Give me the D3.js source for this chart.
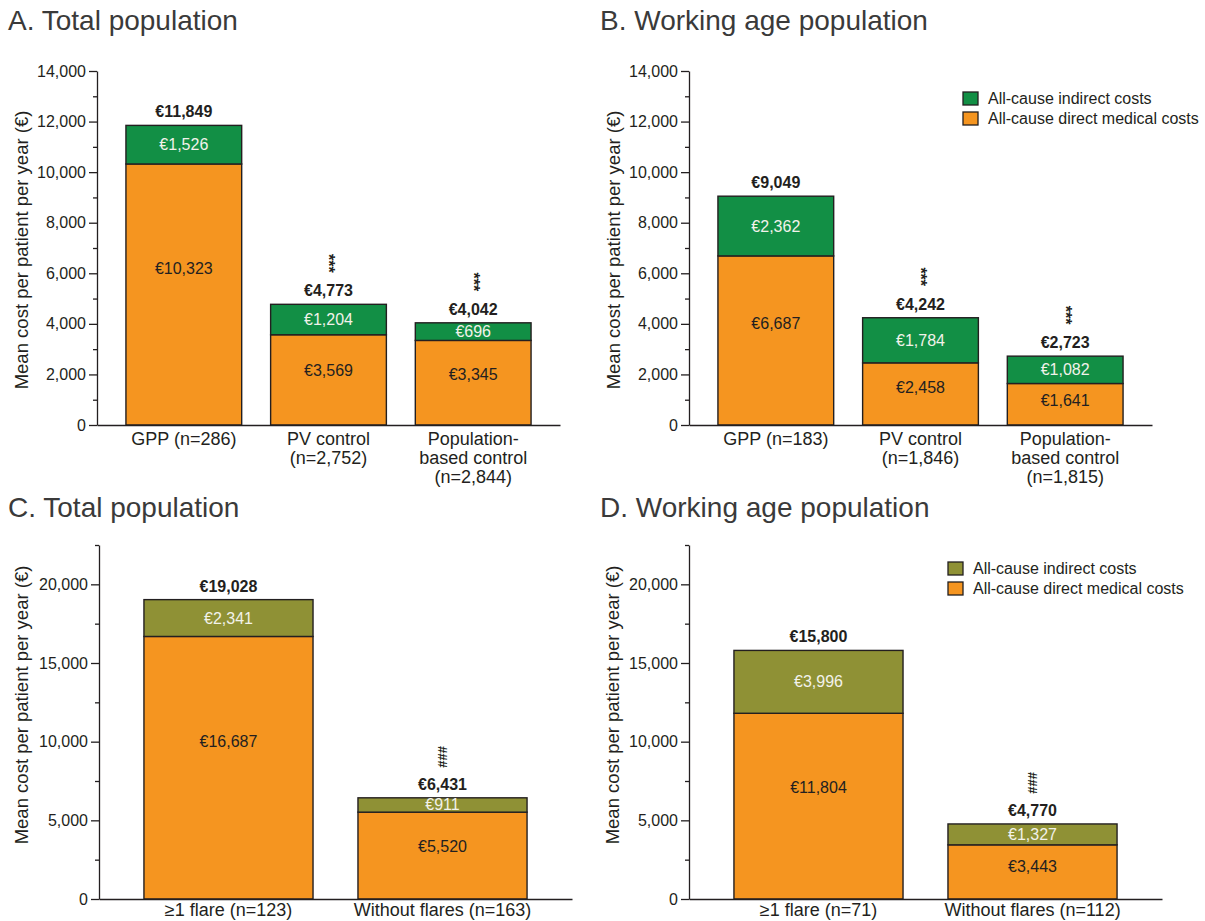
<!DOCTYPE html>
<html>
<head>
<meta charset="utf-8">
<script src="https://cdn.jsdelivr.net/npm/d3@7"></script>
<style>
  html, body { margin: 0; padding: 0; background: #fff; }
  svg { display: block; font-family: "Liberation Sans", Arial, Helvetica, sans-serif; }
</style>
</head>
<body>
<svg id="chart" width="1205" height="921"></svg>
<script>
// ---------- data ----------
const catsA = ["GPP (n=286)", "PV control\n(n=2,752)", "Population-\nbased control\n(n=2,844)"];
const directA = [10323, 3569, 3345];
const indirectA = [1526, 1204, 696];
const totalA = [11849, 4773, 4042];
const sigA = ["", "***", "***"];

const catsB = ["GPP (n=183)", "PV control\n(n=1,846)", "Population-\nbased control\n(n=1,815)"];
const directB = [6687, 2458, 1641];
const indirectB = [2362, 1784, 1082];
const totalB = [9049, 4242, 2723];
const sigB = ["", "***", "***"];

const catsC = ["≥1 flare (n=123)", "Without flares (n=163)"];
const directC = [16687, 5520];
const indirectC = [2341, 911];
const totalC = [19028, 6431];
const sigC = ["", "###"];

const catsD = ["≥1 flare (n=71)", "Without flares (n=112)"];
const directD = [11804, 3443];
const indirectD = [3996, 1327];
const totalD = [15800, 4770];
const sigD = ["", "###"];

const majorTicksAB = [0, 2000, 4000, 6000, 8000, 10000, 12000, 14000];
const minorTicksAB = [1000, 3000, 5000, 7000, 9000, 11000, 13000];
const majorTicksCD = [0, 5000, 10000, 15000, 20000];
const minorTicksCD = [2500, 7500, 12500, 17500, 22500];

const legendLabels = ["All-cause indirect costs", "All-cause direct medical costs"];
const yLabel = "Mean cost per patient per year (€)";
const titles = ["A. Total population", "B. Working age population", "C. Total population", "D. Working age population"];

// ---------- style ----------
const ORANGE = "#f59520";
const GREEN = "#128f45";
const OLIVE = "#8f9135";
const INK = "#231f20";
const FMT = d3.format(",");

const svg = d3.select("#chart");

const panels = [
  { title: titles[0], tx: 8, ty: 30, x0: 97, x1: 560, yTop: 71, yBot: 425, max: 14000,
    major: majorTicksAB, minor: minorTicksAB, cats: catsA, direct: directA, indirect: indirectA,
    total: totalA, sig: sigA, ind: GREEN, pad: 0.2, ylx: 21, yly: 250, legend: null, lab0: 20 },
  { title: titles[1], tx: 600, ty: 30, x0: 689, x1: 1152, yTop: 71, yBot: 425, max: 14000,
    major: majorTicksAB, minor: minorTicksAB, cats: catsB, direct: directB, indirect: indirectB,
    total: totalB, sig: sigB, ind: GREEN, pad: 0.2, ylx: 613, yly: 250, legend: [963, 92], lab0: 20 },
  { title: titles[2], tx: 8, ty: 517, x0: 99, x1: 572, yTop: 545, yBot: 899, max: 22500,
    major: majorTicksCD, minor: minorTicksCD, cats: catsC, direct: directC, indirect: indirectC,
    total: totalC, sig: sigC, ind: OLIVE, pad: 0.21, ylx: 21, yly: 705, legend: null, lab0: 17 },
  { title: titles[3], tx: 600, ty: 517, x0: 689, x1: 1162, yTop: 545, yBot: 899, max: 22500,
    major: majorTicksCD, minor: minorTicksCD, cats: catsD, direct: directD, indirect: indirectD,
    total: totalD, sig: sigD, ind: OLIVE, pad: 0.21, ylx: 612, yly: 705, legend: [948, 562], lab0: 17 }
];

panels.forEach(p => {
  const g = svg.append("g");

  g.append("text")
    .attr("x", p.tx).attr("y", p.ty)
    .attr("font-size", 28).attr("fill", "#3a3a3a")
    .text(p.title);

  const x = d3.scaleBand().domain(p.cats).range([p.x0, p.x1])
    .paddingInner(p.pad).paddingOuter(p.pad);
  const y = d3.scaleLinear().domain([0, p.max]).range([p.yBot, p.yTop]);

  const rows = p.cats.map((c, i) => ({ cat: c, direct: p.direct[i], indirect: p.indirect[i] }));
  const stack = d3.stack().keys(["direct", "indirect"])(rows);
  const colors = { direct: ORANGE, indirect: p.ind };

  // bars
  stack.forEach(layer => {
    g.append("g").selectAll("rect").data(layer).join("rect")
      .attr("x", d => x(d.data.cat))
      .attr("width", x.bandwidth())
      .attr("y", d => y(d[1]))
      .attr("height", d => y(d[0]) - y(d[1]))
      .attr("fill", colors[layer.key])
      .attr("stroke", INK).attr("stroke-width", 1.4);
  });

  // y axis: minor ticks
  g.append("g").attr("transform", `translate(${p.x0},0)`)
    .call(d3.axisLeft(y).tickValues(p.minor).tickSize(4).tickSizeOuter(0).tickFormat(""))
    .call(a => a.select(".domain").remove())
    .call(a => a.selectAll("line").attr("stroke", INK).attr("stroke-width", 1.3));
  // y axis: major ticks
  g.append("g").attr("transform", `translate(${p.x0},0)`)
    .call(d3.axisLeft(y).tickValues(p.major).tickSize(8).tickSizeOuter(0).tickPadding(3).tickFormat(FMT))
    .call(a => a.select(".domain").attr("stroke", INK).attr("stroke-width", 1.3))
    .call(a => a.selectAll("line").attr("stroke", INK).attr("stroke-width", 1.3))
    .call(a => a.selectAll("text").attr("font-size", 16).attr("fill", INK)
      .attr("font-family", "Liberation Sans, Arial, sans-serif"));

  // x axis
  const xa = g.append("g").attr("transform", `translate(0,${p.yBot})`)
    .call(d3.axisBottom(x).tickSize(0).tickSizeOuter(0))
    .call(a => a.select(".domain").attr("stroke", INK).attr("stroke-width", 1.3));
  xa.selectAll("text").each(function(d) {
    const t = d3.select(this).text(null)
      .attr("font-size", 18).attr("fill", INK).attr("y", 0).attr("dy", null)
      .attr("font-family", "Liberation Sans, Arial, sans-serif");
    d.split("\n").forEach((line, i) => {
      t.append("tspan").attr("x", 0).attr("y", p.lab0 + i * 19).text(line);
    });
  });

  // y label
  g.append("text")
    .attr("transform", `translate(${p.ylx},${p.yly}) rotate(-90)`)
    .attr("text-anchor", "middle").attr("dominant-baseline", "central")
    .attr("font-size", 18.5).attr("fill", INK)
    .text(yLabel);

  // segment labels
  rows.forEach((r, i) => {
    const cx = x(r.cat) + x.bandwidth() / 2;
    const dTop = y(r.direct), dBot = y(0);
    const dh = dBot - dTop;
    g.append("text").attr("x", cx).attr("y", dTop + dh * 0.4)
      .attr("text-anchor", "middle").attr("dominant-baseline", "central")
      .attr("font-size", 16).attr("fill", INK)
      .text("€" + FMT(r.direct));
    const iTop = y(r.direct + r.indirect);
    g.append("text").attr("x", cx).attr("y", (iTop + dTop) / 2)
      .attr("text-anchor", "middle").attr("dominant-baseline", "central")
      .attr("font-size", 16).attr("fill", "#f2f2ea")
      .text("€" + FMT(r.indirect));
    // total
    const base = y(p.total[i]) - 8;
    g.append("text").attr("x", cx).attr("y", base)
      .attr("text-anchor", "middle")
      .attr("font-size", 16).attr("font-weight", "bold").attr("fill", INK)
      .text("€" + FMT(p.total[i]));
    if (p.sig[i]) {
      g.append("text")
        .attr("transform", `translate(${cx},${base - 33}) rotate(90)`)
        .attr("text-anchor", "middle").attr("dominant-baseline", "central")
        .attr("font-size", p.sig[i] === "###" ? 13 : 16)
        .attr("font-weight", "bold").attr("fill", INK)
        .text(p.sig[i]);
    }
  });

  // legend
  if (p.legend) {
    const [lx, ly] = p.legend;
    const items = [{ c: p.ind, t: legendLabels[0] }, { c: ORANGE, t: legendLabels[1] }];
    items.forEach((it, k) => {
      g.append("rect").attr("x", lx).attr("y", ly + k * 20)
        .attr("width", 15).attr("height", 13)
        .attr("fill", it.c).attr("stroke", INK).attr("stroke-width", 1.3);
      g.append("text").attr("x", lx + 25).attr("y", ly + k * 20 + 12)
        .attr("font-size", 16).attr("fill", INK).text(it.t);
    });
  }
});
</script>
</body>
</html>
